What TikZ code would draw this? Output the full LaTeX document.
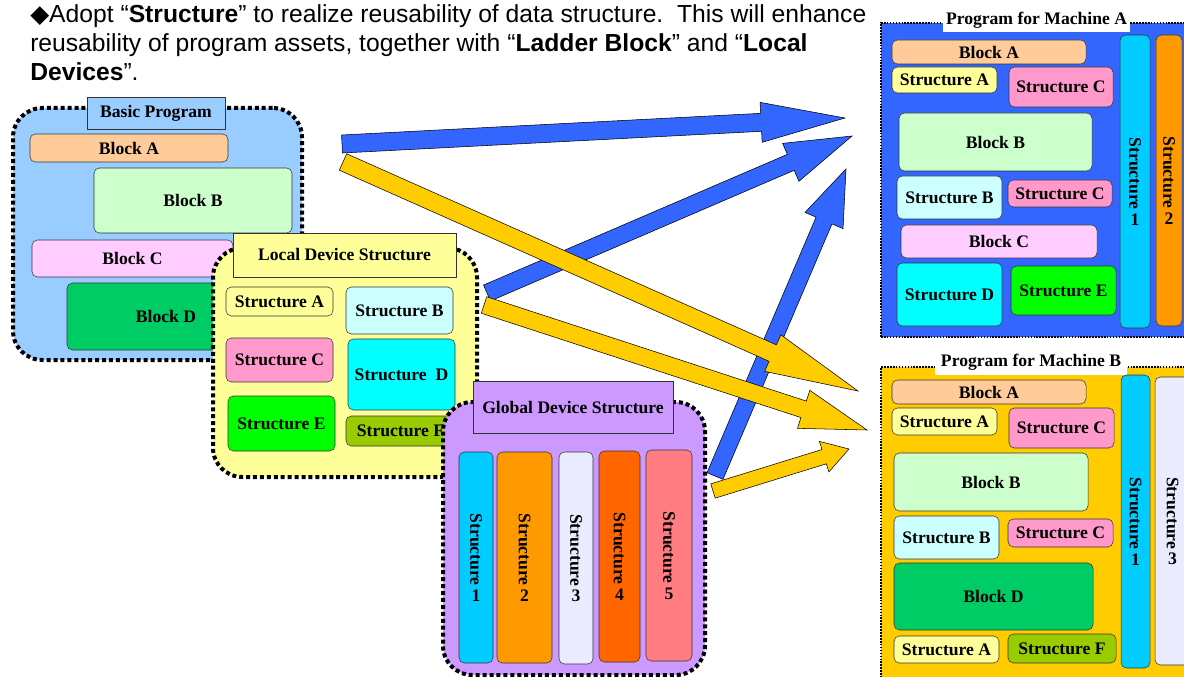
\documentclass[tikz,border=0pt]{standalone}
\usepackage{fontspec}
\setmainfont{Liberation Serif}
\newfontfamily\headfont{Liberation Sans}
\newfontfamily\symfont{DejaVu Sans}
\usetikzlibrary{calc}

\definecolor{skyblue}{HTML}{99CCFF}
\definecolor{peach}{HTML}{FFCC99}
\definecolor{mint}{HTML}{CCFFCC}
\definecolor{lilac}{HTML}{FFCCFF}
\definecolor{leaf}{HTML}{00CC66}
\definecolor{cream}{HTML}{FFFF99}
\definecolor{ice}{HTML}{CCFFFF}
\definecolor{rose}{HTML}{FF99CC}
\definecolor{aqua}{HTML}{00FFFF}
\definecolor{lime}{HTML}{00FF00}
\definecolor{olive}{HTML}{99CC00}
\definecolor{violet}{HTML}{CC99FF}
\definecolor{cyanbar}{HTML}{00CCFF}
\definecolor{amber}{HTML}{FF9900}
\definecolor{lavend}{HTML}{EBEBFF}
\definecolor{flame}{HTML}{FF6600}
\definecolor{salmon}{HTML}{FF7C80}
\definecolor{royal}{HTML}{3366FF}
\definecolor{gold}{HTML}{FFCC00}

% fat block arrow: from, to, fill, head length, head half width, shaft half width
\newcommand{\fatarrow}[6]{%
  \coordinate (hb) at ($(#2)!#4!(#1)$);
  \draw[fill=#3, line join=miter] ($(#1)!#6!90:(#2)$) -- ($(hb)!#6!90:(#2)$) -- ($(hb)!#5!90:(#2)$) -- (#2)
    -- ($(hb)!#5!-90:(#2)$) -- ($(hb)!#6!-90:(#2)$) -- ($(#1)!#6!-90:(#2)$) -- cycle;}

\begin{document}
\begin{tikzpicture}[x=0.75pt, y=-0.75pt, font=\fontsize{13.2}{14.5}\selectfont\bfseries,
  bx/.style n args={4}{minimum width={(#3-#1)*0.75pt}, minimum height={(#4-#2)*0.75pt},
    at={({(#1+#3)/2},{(#2+#4)/2})}},
  grp/.style={draw, line width=3pt, dash pattern=on 3pt off 2.2pt, rounded corners=22pt, inner sep=0pt},
  ttl/.style={draw=black!80, thin, inner sep=0pt},
  blk/.style={draw=black!80, thin, rounded corners=4pt, inner sep=0pt, align=center},
  mach/.style={draw, densely dotted, line width=1.2pt, inner sep=0pt},
  mtitle/.style={fill=white, inner sep=0pt}]
\useasboundingbox (0,0) rectangle (1184,677);

\node[anchor=north west, align=left, inner sep=0pt, font=\headfont\fontsize{18.5}{22}\selectfont] (intro) at (30,4)
  {{\symfont ◆}Adopt “\textbf{Structure}” to realize reusability of data structure.\ \ This will enhance\\
   reusability of program assets, together with “\textbf{Ladder Block}” and “\textbf{Local}\\
   \textbf{Devices}”.};

% basic program
\node[grp, fill=skyblue, bx={13}{108}{302}{360}] (bp) {};
\node[ttl, fill=skyblue, bx={87}{97}{225}{129}] (bp-t) {Basic Program};
\node[blk, fill=peach, bx={30}{134}{228}{162}] (bpA) {Block A};
\node[blk, fill=mint, bx={94}{168}{292}{233}] (bpB) {Block B};
\node[blk, fill=lilac, bx={32}{240}{233}{277}] (bpC) {Block C};
\node[blk, fill=leaf, bx={67}{283}{265}{350}] (bpD) {Block D};

% local device structure
\node[grp, fill=cream, bx={213}{248}{477}{477}] (ld) {};
\node[ttl, fill=cream, bx={233}{233}{456}{277}] (ld-t) {Local Device Structure};
\node[blk, fill=cream, bx={226}{287}{333}{316}] (ldA) {Structure A};
\node[blk, fill=ice, bx={346}{287}{453}{334}] (ldB) {Structure B};
\node[blk, fill=rose, bx={226}{338}{333}{382}] (ldC) {Structure C};
\node[blk, fill=aqua, bx={348}{339}{455}{410}] (ldD) {Structure\ \ D};
\node[blk, fill=lime, bx={228}{396}{335}{451}] (ldE) {Structure E};
\node[blk, fill=olive, bx={346}{416}{455}{446}] (ldF) {Structure F};

% global device structure
\node[grp, fill=violet, bx={443}{402}{705}{675}] (gd) {};
\node[ttl, fill=violet, bx={473}{381}{673}{433}] (gd-t) {Global Device Structure};
\node[blk, fill=cyanbar, bx={459}{452}{493}{663}] (gd1) {\rotatebox{-90}{Structure}\\[2pt]1};
\node[blk, fill=amber, bx={497}{452}{552}{663}] (gd2) {\rotatebox{-90}{Structure}\\[2pt]2};
\node[blk, fill=lavend, bx={559}{452}{593}{664}] (gd3) {\rotatebox{-90}{Structure}\\[2pt]3};
\node[blk, fill=flame, bx={599}{451}{640}{662}] (gd4) {\rotatebox{-90}{Structure}\\[2pt]4};
\node[blk, fill=salmon, bx={646}{450}{692}{661}] (gd5) {\rotatebox{-90}{Structure}\\[2pt]5};

% program for machine A
\node[mach, fill=royal, bx={881}{23}{1200}{337}] (ma) {};
\node[mtitle, bx={943}{8}{1130}{32}] (ma-t) {Program for Machine A};
\node[blk, fill=peach, bx={892}{40}{1086}{64}] (maA) {Block A};
\node[blk, fill=cream, bx={892}{67}{997}{93}] (maSA) {Structure A};
\node[blk, fill=rose, bx={1009}{67}{1113}{107}] (maSC) {Structure C};
\node[blk, fill=mint, bx={899}{113}{1092}{171}] (maB) {Block B};
\node[blk, fill=ice, bx={897}{176}{1002}{219}] (maSB) {Structure B};
\node[blk, fill=rose, bx={1008}{180}{1112}{207}] (maSC2) {Structure C};
\node[blk, fill=lilac, bx={901}{225}{1097}{258}] (maC) {Block C};
\node[blk, fill=aqua, bx={897}{263}{1002}{326}] (maSD) {Structure D};
\node[blk, fill=lime, bx={1011}{266}{1116}{315}] (maSE) {Structure E};
\node[blk, fill=cyanbar, bx={1120}{35}{1150}{328}] (ma1) {\rotatebox{-90}{Structure}\\[2pt]1};
\node[blk, fill=amber, bx={1156}{35}{1182}{326}] (ma2) {\rotatebox{-90}{Structure}\\[2pt]2};

% program for machine B
\node[mach, fill=gold, bx={881}{367}{1200}{690}] (mb) {};
\node[mtitle, bx={935}{350}{1127}{375}] (mb-t) {Program for Machine B};
\node[blk, fill=peach, bx={892}{380}{1086}{404}] (mbA) {Block A};
\node[blk, fill=cream, bx={892}{408}{997}{435}] (mbSA) {Structure A};
\node[blk, fill=rose, bx={1009}{408}{1114}{448}] (mbSC) {Structure C};
\node[blk, fill=mint, bx={894}{453}{1088}{511}] (mbB) {Block B};
\node[blk, fill=ice, bx={894}{516}{999}{559}] (mbSB) {Structure B};
\node[blk, fill=rose, bx={1008}{519}{1113}{547}] (mbSC2) {Structure C};
\node[blk, fill=leaf, bx={894}{563}{1093}{630}] (mbD) {Block D};
\node[blk, fill=cream, bx={894}{636}{999}{663}] (mbSA2) {Structure A};
\node[blk, fill=olive, bx={1008}{634}{1116}{663}] (mbSF) {Structure F};
\node[blk, fill=cyanbar, bx={1121}{375}{1150}{668}] (mb1) {\rotatebox{-90}{Structure}\\[2pt]1};
\node[blk, fill=lavend, bx={1155}{377}{1190}{665}] (mb3) {\rotatebox{-90}{Structure}\\[2pt]3};

% arrows
\coordinate (bp-o1) at (342,144);
\coordinate (bp-o2) at (343,162);
\coordinate (ld-o1) at (487,293);
\coordinate (ld-o2) at (484,305);
\coordinate (gd-o1) at (715,476);
\coordinate (gd-o2) at (713,491);
\coordinate (ma-i1) at (845,118);
\coordinate (ma-i2) at (852,136);
\coordinate (ma-i3) at (846,169);
\coordinate (mb-i1) at (858,391);
\coordinate (mb-i2) at (867,430);
\coordinate (mb-i3) at (849,449);

\fatarrow{bp-o1}{ma-i1}{royal}{63pt}{15pt}{6.75pt}
\fatarrow{ld-o1}{ma-i2}{royal}{50pt}{15.5pt}{6.5pt}
\fatarrow{gd-o1}{ma-i3}{royal}{42pt}{15.5pt}{6.5pt}
\fatarrow{bp-o2}{mb-i1}{gold}{70pt}{15pt}{6.75pt}
\fatarrow{ld-o2}{mb-i2}{gold}{50pt}{15pt}{6.5pt}
\fatarrow{gd-o2}{mb-i3}{gold}{19.5pt}{12pt}{5.6pt}
\end{tikzpicture}
\end{document}
